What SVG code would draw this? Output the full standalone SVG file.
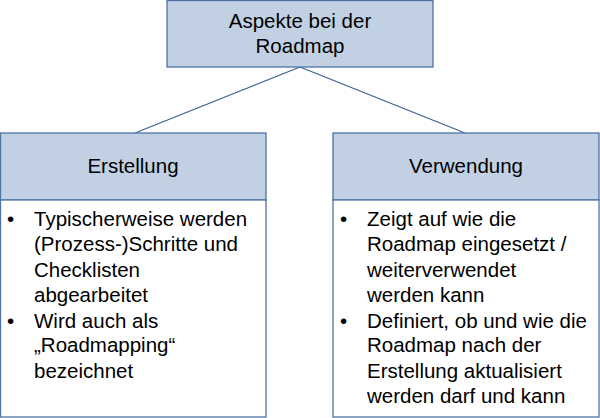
<svg xmlns="http://www.w3.org/2000/svg" width="600" height="418" viewBox="0 0 600 418">
<style>
.h{fill:#c1d0e3;stroke:#4f73a3;stroke-width:1.3}
.b{fill:#fff;stroke:#4f73a3;stroke-width:1.3}
text{font-family:"Liberation Sans",Arial,sans-serif;font-size:20.5px;fill:#000}
.c{text-anchor:middle}
.con{stroke:#3f6396;stroke-width:1.3;fill:none}
</style>
<rect width="600" height="418" fill="#fff"/>
<g id="connectors">
<line class="con" x1="300" y1="67" x2="135" y2="133"/>
<line class="con" x1="300" y1="67" x2="465" y2="133"/>
</g>
<g id="root">
<rect class="h" x="167" y="0.5" width="266" height="66.5"/>
<text class="c" x="300" y="28">Aspekte bei der</text>
<text class="c" x="300" y="53">Roadmap</text>
</g>
<g id="erstellung">
<rect class="h" x="0.5" y="133" width="265.5" height="67"/>
<rect class="b" x="0.5" y="200" width="265.5" height="217"/>
<text class="c" x="133" y="173">Erstellung</text>
<text x="7" y="226">•</text>
<text x="34" y="226">Typischerweise werden</text>
<text x="34" y="251">(Prozess-)Schritte und</text>
<text x="34" y="277">Checklisten</text>
<text x="34" y="302">abgearbeitet</text>
<text x="7" y="328">•</text>
<text x="34" y="328">Wird auch als</text>
<text x="34" y="352">„Roadmapping“</text>
<text x="34" y="378">bezeichnet</text>
</g>
<g id="verwendung">
<rect class="h" x="333" y="133" width="266" height="67"/>
<rect class="b" x="333" y="200" width="266" height="217"/>
<text class="c" x="466" y="173">Verwendung</text>
<text x="340" y="226">•</text>
<text x="367" y="226">Zeigt auf wie die</text>
<text x="367" y="251">Roadmap eingesetzt /</text>
<text x="367" y="277">weiterverwendet</text>
<text x="367" y="302">werden kann</text>
<text x="340" y="328">•</text>
<text x="367" y="328">Definiert, ob und wie die</text>
<text x="367" y="352">Roadmap nach der</text>
<text x="367" y="378">Erstellung aktualisiert</text>
<text x="367" y="403">werden darf und kann</text>
</g>
</svg>
